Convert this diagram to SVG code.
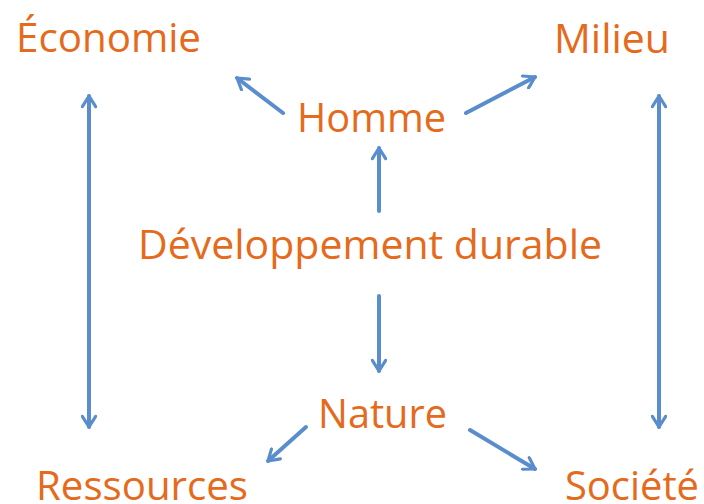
<svg xmlns="http://www.w3.org/2000/svg" width="704" height="504" viewBox="0 0 704 504">
<style>
.t{font-family:"Open Sans","Noto Sans","Liberation Sans",sans-serif;font-size:40px;fill:#E56A1C}
.a{stroke:#5A8DCB;stroke-width:4;fill:none;stroke-linecap:round}
</style>
<defs>
<marker id="h" viewBox="0 0 12 12" refX="10" refY="6" markerWidth="4" markerHeight="4" orient="auto-start-reverse" markerUnits="strokeWidth">
<path d="M2,1 L10,6 L2,11" fill="none" stroke="#5A8DCB" stroke-width="2.4" stroke-linecap="round" stroke-linejoin="round"/>
</marker>
</defs>
<rect width="704" height="504" fill="#fff"/>
<g id="n-economie"><text class="t" x="16" y="52" textLength="185" lengthAdjust="spacingAndGlyphs">Économie</text></g>
<g id="n-milieu"><text class="t" x="554" y="53" textLength="116" lengthAdjust="spacingAndGlyphs">Milieu</text></g>
<g id="n-homme"><text class="t" x="297" y="132" textLength="149" lengthAdjust="spacingAndGlyphs">Homme</text></g>
<g id="n-dd"><text class="t" x="138" y="259" textLength="464" lengthAdjust="spacingAndGlyphs">Développement durable</text></g>
<g id="n-nature"><text class="t" x="318" y="428" textLength="129" lengthAdjust="spacingAndGlyphs">Nature</text></g>
<g id="n-ressources"><text class="t" x="36" y="500" textLength="212" lengthAdjust="spacingAndGlyphs">Ressources</text></g>
<g id="n-societe"><text class="t" x="565" y="500" textLength="134" lengthAdjust="spacingAndGlyphs">Société</text></g>
<g id="connectors">
<line class="a" x1="89" y1="96" x2="89" y2="427" marker-start="url(#h)" marker-end="url(#h)"/>
<line class="a" x1="659" y1="96" x2="659" y2="427" marker-start="url(#h)" marker-end="url(#h)"/>
<line class="a" x1="283" y1="113" x2="237" y2="78" marker-end="url(#h)"/>
<line class="a" x1="466" y1="113" x2="535" y2="77" marker-end="url(#h)"/>
<line class="a" x1="379" y1="211" x2="379" y2="148" marker-end="url(#h)"/>
<line class="a" x1="379" y1="296" x2="379" y2="371" marker-end="url(#h)"/>
<line class="a" x1="306" y1="427" x2="268" y2="461" marker-end="url(#h)"/>
<line class="a" x1="470" y1="430" x2="535" y2="469" marker-end="url(#h)"/>
</g>
</svg>
